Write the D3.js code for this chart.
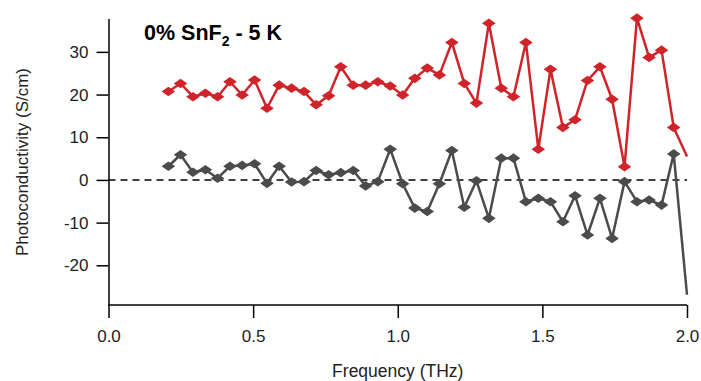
<!DOCTYPE html>
<html>
<head>
<meta charset="utf-8">
<script src="https://cdn.jsdelivr.net/npm/d3@7"></script>
<style>
  body { margin: 0; background: #fff; }
  text { font-family: "Liberation Sans", Arial, sans-serif; }
</style>
</head>
<body>
<div id="chart"></div>
<script>
// frequency points (THz)
var freqs = [0.207, 0.249, 0.292, 0.335, 0.377, 0.420, 0.462, 0.505, 0.548, 0.590,
             0.633, 0.676, 0.718, 0.761, 0.803, 0.846, 0.889, 0.931, 0.974, 1.017,
             1.059, 1.102, 1.144, 1.187, 1.230, 1.272, 1.315, 1.358, 1.400, 1.443,
             1.486, 1.528, 1.571, 1.613, 1.656, 1.699, 1.741, 1.784, 1.827, 1.869,
             1.912, 1.954, 2.000];

// upper (red) trace
var redValues = [20.7, 22.6, 19.5, 20.3, 19.5, 23.0, 19.9, 23.4, 16.8, 22.2,
                 21.5, 20.7, 17.6, 19.7, 26.5, 22.2, 22.2, 23.0, 22.0, 19.9,
                 23.8, 26.2, 24.6, 32.2, 22.6, 18.0, 36.7, 21.5, 19.5, 32.2,
                 7.2, 25.9, 12.3, 14.1, 23.3, 26.5, 18.9, 3.1, 37.9, 28.7,
                 30.4, 12.3, 5.5];

// lower (gray) trace
var grayValues = [3.2, 5.9, 1.8, 2.4, 0.4, 3.2, 3.4, 3.8, -0.8, 3.2,
                  -0.5, -0.4, 2.2, 1.2, 1.7, 2.2, -1.4, -0.4, 7.2, -0.9,
                  -6.6, -7.4, -0.9, 6.9, -6.4, -0.2, -9.0, 5.1, 5.1, -5.1,
                  -4.3, -5.1, -9.8, -3.7, -12.9, -4.3, -13.7, -0.4, -5.1, -4.7,
                  -5.9, 6.1, -26.9];

var xTicks = [0.0, 0.5, 1.0, 1.5, 2.0];
var yTicks = [-20, -10, 0, 10, 20, 30];

var width = 701, height = 381;
var margin = { top: 19, right: 14, bottom: 76, left: 108 };

var svg = d3.select("#chart").append("svg")
    .attr("width", width)
    .attr("height", height);

var x = d3.scaleLinear()
    .domain([0, 2])
    .range([margin.left + 0.5, width - margin.right]);

var y = d3.scaleLinear()
    .domain([-29.3, 37.7])
    .range([height - margin.bottom, margin.top]);

// zero line
svg.append("line")
    .attr("x1", x(0)).attr("x2", x(2))
    .attr("y1", y(0)).attr("y2", y(0))
    .attr("stroke", "#000")
    .attr("stroke-width", 1.5)
    .attr("stroke-dasharray", "7,5");

// axes
var xAxis = svg.append("g")
    .attr("transform", "translate(0," + y(-29.3) + ")")
    .call(d3.axisBottom(x).tickValues(xTicks).tickFormat(d3.format(".1f")).tickSize(13).tickPadding(12));

var yAxis = svg.append("g")
    .attr("transform", "translate(" + x(0) + ",0)")
    .call(d3.axisLeft(y).tickValues(yTicks).tickFormat(function(d) { return String(d); }).tickSize(12).tickPadding(8));

[xAxis, yAxis].forEach(function(g) {
    g.select(".domain").attr("stroke", "#000").attr("stroke-width", 1.5);
    g.selectAll(".tick line").attr("stroke", "#000").attr("stroke-width", 1.5);
    g.selectAll(".tick text")
        .attr("fill", "#222")
        .style("font-size", "17px")
        .style("font-family", "'Liberation Sans', Arial, sans-serif");
});
yAxis.select(".domain").attr("d", "M0.5," + y(-29.3) + "V" + y(37.7));
xAxis.select(".domain").attr("d", "M" + x(0) + ",0H" + x(2));

svg.append("text")
    .attr("x", (x(0) + x(2)) / 2)
    .attr("y", 377)
    .attr("text-anchor", "middle")
    .attr("fill", "#222")
    .style("font-size", "17.5px")
    .text("Frequency (THz)");

svg.append("text")
    .attr("transform", "translate(28," + ((y(37.7) + y(-29.3)) / 2) + ") rotate(-90)")
    .attr("text-anchor", "middle")
    .attr("fill", "#222")
    .style("font-size", "17px")
    .text("Photoconductivity (S/cm)");

// title with subscript
var title = svg.append("text")
    .attr("x", 144)
    .attr("y", 40)
    .style("font-size", "21.5px")
    .style("font-weight", "bold")
    .attr("fill", "#000");
title.append("tspan").text("0% SnF");
title.append("tspan").attr("dy", 6).style("font-size", "14px").text("2");
title.append("tspan").attr("dy", -6).text(" - 5 K");

var series = [
    { name: "red", color: "#d0232a", values: redValues },
    { name: "gray", color: "#4b4b4d", values: grayValues }
];

var line = d3.line()
    .x(function(d) { return x(d.f); })
    .y(function(d) { return y(d.v); });

var diamond = "M0,-4.8L6.8,0L0,4.8L-6.8,0Z";

series.forEach(function(s) {
    var pts = freqs.map(function(f, i) { return { f: f, v: s.values[i] }; });

    svg.append("path")
        .datum(pts)
        .attr("fill", "none")
        .attr("stroke", s.color)
        .attr("stroke-width", 2.5)
        .attr("stroke-linejoin", "round")
        .attr("d", line);

    svg.selectAll(".m-" + s.name)
        .data(pts.filter(function(d) { return d.f < 1.99; }))
        .enter().append("path")
        .attr("class", "m-" + s.name)
        .attr("d", diamond)
        .attr("transform", function(d) { return "translate(" + x(d.f) + "," + y(d.v) + ")"; })
        .attr("fill", s.color);
});
</script>
</body>
</html>
